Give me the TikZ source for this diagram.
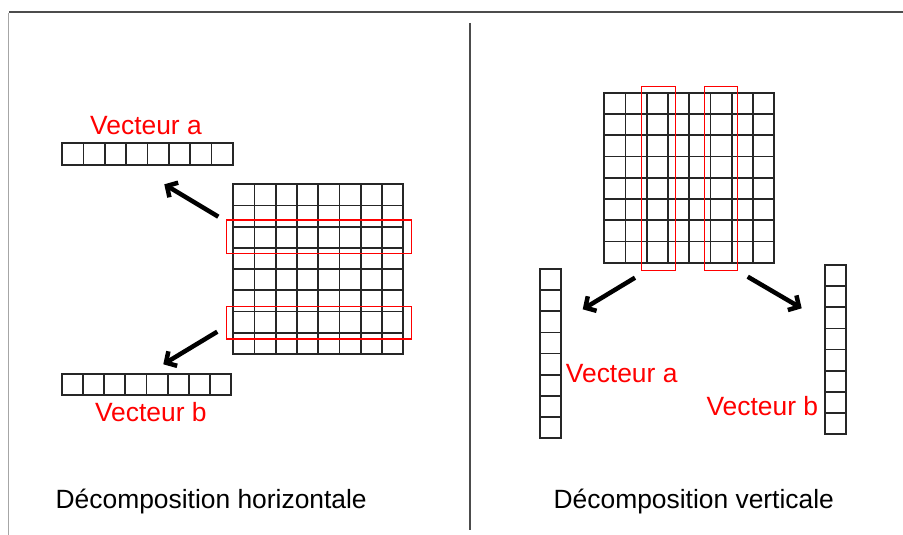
\documentclass[tikz,border=0pt]{standalone}
\usepackage{fontspec}
\setmainfont{Liberation Sans}
\usetikzlibrary{arrows.meta}
\tikzset{
  cellline/.style={draw=black!85, line width=1.7pt, line cap=rect},
  sel/.style={draw=red, line width=1.5pt},
  bigarrow/.style={draw=black, line width=4.5pt, -{Straight Barb[length=8pt,width=17pt]}},
  redlabel/.style={text=red, font=\fontsize{26.4}{30}\selectfont, inner sep=0pt, anchor=base},
  blacklabel/.style={text=black, font=\fontsize{26.4}{30}\selectfont, inner sep=0pt, anchor=base},
}
% \cellgrid{x0}{y0}{cols}{rows}{cellw}{cellh}
\newcommand{\cellgrid}[6]{%
  \foreach \ci in {0,...,#3} { \draw[cellline] ({#1+\ci*#5},{#2}) -- ({#1+\ci*#5},{#2+#4*#6}); }
  \foreach \ri in {0,...,#4} { \draw[cellline] ({#1},{#2+\ri*#6}) -- ({#1+#3*#5},{#2+\ri*#6}); }
}
\begin{document}
\begin{tikzpicture}[x=1pt,y=-1pt]
\useasboundingbox (0,0) rectangle (903,535);
\fill[white] (0,0) rectangle (903,535);
% frame
\draw[draw=black!70, line width=1.5pt] (9,12) -- (903,12);
\draw[draw=black!35, line width=1.5pt] (8.5,13) -- (8.5,535);
\draw[draw=black!70, line width=1.7pt] (470,23) -- (470,530);

% ---------- left: horizontal decomposition ----------
\cellgrid{233.3}{184.3}{8}{8}{21.25}{21.2}
\draw[sel] (226.7,220) rectangle (411.7,253.3);
\draw[sel] (226.7,306.3) rectangle (411.7,339);
\cellgrid{62.3}{143.3}{8}{1}{21.3}{21.7}
\cellgrid{61.7}{373.7}{8}{1}{21.2}{21.3}
\node[redlabel] (la) at (146,135) {Vecteur a};
\node[redlabel] (lb) at (150.8,421.7) {Vecteur b};
\node[blacklabel] (th) at (211.2,508.3) {Décomposition horizontale};
\coordinate (a1s) at (218.3,216.7);
\coordinate (a1e) at (164.3,184.3);
\coordinate (a2s) at (217.3,331.7);
\coordinate (a2e) at (163.3,364.3);
\draw[bigarrow] (a1s) -- (a1e);
\draw[bigarrow] (a2s) -- (a2e);

% ---------- right: vertical decomposition ----------
\cellgrid{604.3}{92.7}{8}{8}{21.25}{21.25}
\draw[sel] (641.7,86.7) rectangle (675.3,270.7);
\draw[sel] (704.3,86.7) rectangle (737.3,270.7);
\cellgrid{540}{269}{1}{8}{21}{21.16}
\cellgrid{825}{265}{1}{8}{21}{21.16}
\node[redlabel] (ra) at (621.7,382.3) {Vecteur a};
\node[redlabel] (rb) at (762.3,415.7) {Vecteur b};
\node[blacklabel] (tv) at (693.8,508.3) {Décomposition verticale};
\coordinate (b1s) at (635,277.7);
\coordinate (b1e) at (582.7,309.3);
\coordinate (b2s) at (747.7,276.7);
\coordinate (b2e) at (801.7,308.3);
\draw[bigarrow] (b1s) -- (b1e);
\draw[bigarrow] (b2s) -- (b2e);
\end{tikzpicture}
\end{document}
